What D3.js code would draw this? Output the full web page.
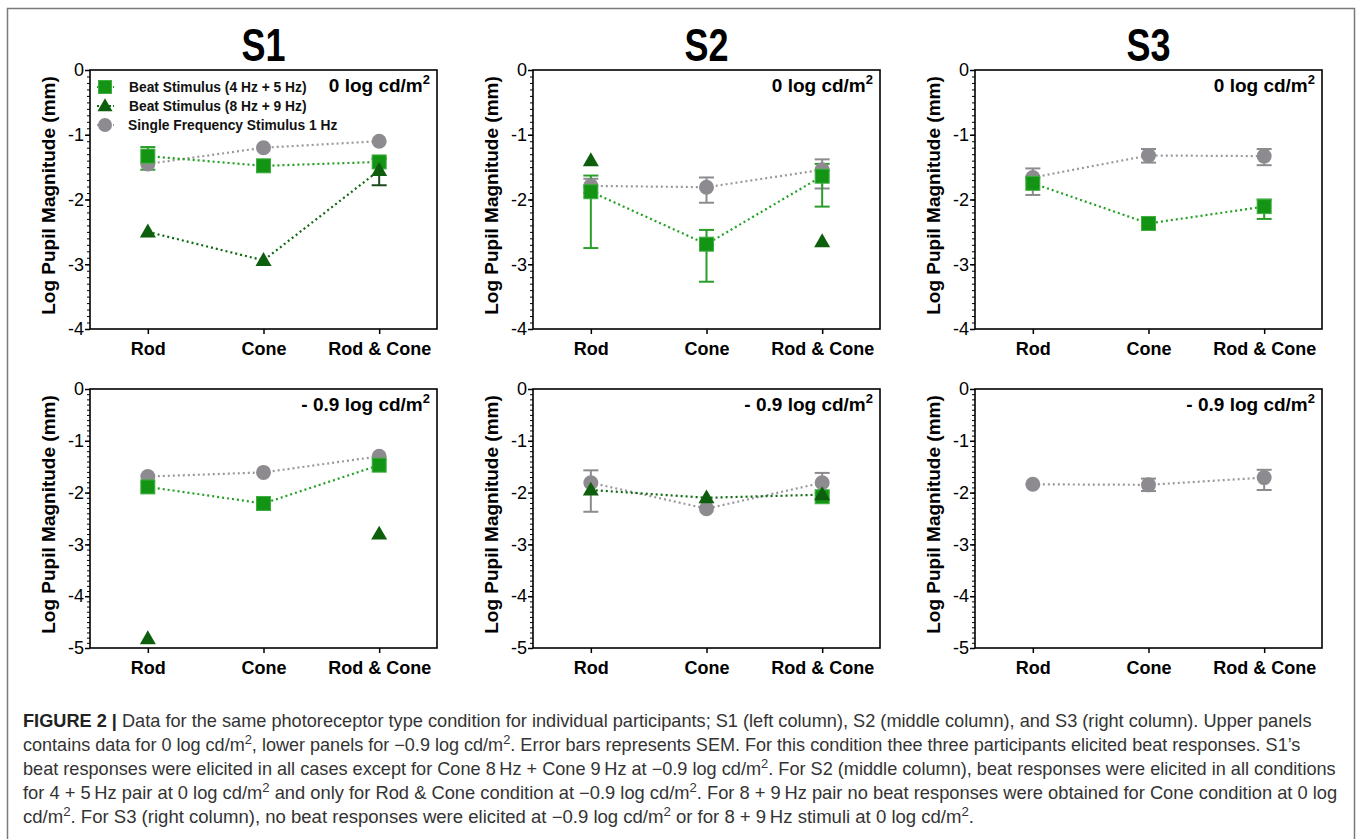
<!DOCTYPE html>
<html>
<head>
<meta charset="utf-8">
<script src="https://cdn.jsdelivr.net/npm/d3@7/dist/d3.min.js"></script>
<style>
  html, body { margin: 0; padding: 0; background: #fff; }
  svg { display: block; font-family: "Liberation Sans", Arial, Helvetica, sans-serif; }
</style>
</head>
<body>
<svg id="chart" width="1358" height="839"></svg>
<script>
// ---------------- DATA ----------------
const categories = ["Rod", "Cone", "Rod & Cone"];
const subjects = ["S1", "S2", "S3"];
const conditionLabels = ["0 log cd/m", "- 0.9 log cd/m"];
const yTicksTop = [0, -1, -2, -3, -4];
const yTicksBottom = [0, -1, -2, -3, -4, -5];
const seriesNames = ["Beat Stimulus (4 Hz + 5 Hz)", "Beat Stimulus (8 Hz + 9 Hz)", "Single Frequency Stimulus 1 Hz"];

// panel order: S1 top, S2 top, S3 top, S1 bottom, S2 bottom, S3 bottom
const beat45 = [
  [-1.33, -1.48, -1.42],
  [-1.88, -2.69, -1.64],
  [-1.75, -2.37, -2.11],
  [-1.89, -2.21, -1.47],
  [null, null, -2.08],
  [null, null, null]
];
const beat45Err = [
  [[-1.19, -1.54], null, null],
  [[-1.63, -2.75], [-2.47, -3.27], [-1.45, -2.11]],
  [null, null, [-2.0, -2.3]],
  [null, null, null],
  [null, null, null],
  [null, null, null]
];
const beat89 = [
  [-2.5, -2.94, -1.55],
  [-1.4, null, -2.65],
  [null, null, null],
  [-4.82, null, -2.8],
  [-1.95, -2.1, -2.04],
  [null, null, null]
];
const beat89Err = [
  [null, null, [-1.37, -1.78]],
  [null, null, null],
  [null, null, null],
  [null, null, null],
  [null, null, null],
  [null, null, null]
];
const single1Hz = [
  [-1.45, -1.2, -1.1],
  [-1.79, -1.81, -1.54],
  [-1.66, -1.32, -1.33],
  [-1.69, -1.61, -1.3],
  [-1.81, -2.31, -1.81],
  [-1.84, -1.85, -1.71]
];
const single1HzErr = [
  [null, null, null],
  [[-1.68, -1.9], [-1.66, -2.05], [-1.38, -1.83]],
  [[-1.52, -1.93], [-1.22, -1.43], [-1.22, -1.47]],
  [null, null, null],
  [[-1.57, -2.37], null, [-1.62, -2.0]],
  [null, [-1.73, -1.97], [-1.56, -1.95]]
];

const captionLines = [
  [["b", "FIGURE 2 | "], ["n", "Data for the same photoreceptor type condition for individual participants; S1 (left column), S2 (middle column), and S3 (right column). Upper panels"]],
  [["n", "contains data for 0 log cd/m"], ["s", "2"], ["n", ", lower panels for \u22120.9 log cd/m"], ["s", "2"], ["n", ". Error bars represents SEM. For this condition thee three participants elicited beat responses. S1\u2019s"]],
  [["n", "beat responses were elicited in all cases except for Cone 8\u2009Hz + Cone 9\u2009Hz at \u22120.9 log cd/m"], ["s", "2"], ["n", ". For S2 (middle column), beat responses were elicited in all conditions"]],
  [["n", "for 4 + 5\u2009Hz pair at 0 log cd/m"], ["s", "2"], ["n", " and only for Rod & Cone condition at \u22120.9 log cd/m"], ["s", "2"], ["n", ". For 8 + 9\u2009Hz pair no beat responses were obtained for Cone condition at 0 log"]],
  [["n", "cd/m"], ["s", "2"], ["n", ". For S3 (right column), no beat responses were elicited at \u22120.9 log cd/m"], ["s", "2"], ["n", " or for 8 + 9\u2009Hz stimuli at 0 log cd/m"], ["s", "2"], ["n", "."]]
];

// ---------------- LAYOUT / STYLE ----------------
const colLeft = [90, 533, 975];
const panelW = 347;
const rowTop = [70, 389];
const panelH = 259;
const captionEnds = [1313, 1302, 1337, 1338, 975];

const C = {
  sq: "#149414", sqStroke: "#3fae3f", sqLine: "#23a023", sqErr: "#2a9d2a",
  tri: "#0d5e0d", triLine: "#0f6a0f", triErr: "#1d4a1d",
  cir: "#8e8b90", cirLine: "#9b989d", cirErr: "#8e8b90"
};

const svg = d3.select("#chart");

// outer frame
svg.append("rect").attr("x", 7.5).attr("y", 8.5).attr("width", 1347).attr("height", 850)
  .attr("fill", "none").attr("stroke", "#7a7a7a").attr("stroke-width", 1.5);

function fitText(textSel, x, y, width) {
  const w = textSel.node().getBBox().width;
  const k = width / w;
  textSel.attr("transform", `translate(${x},${y}) scale(${k},1)`);
}

// Titles
subjects.forEach((s, i) => {
  const cx = colLeft[i] + panelW / 2;
  const t = svg.append("text").attr("x", 0).attr("y", 0)
    .attr("font-weight", "bold").attr("font-size", 46).attr("fill", "#000")
    .text(s);
  const w = t.node().getBBox().width;
  const target = 44;
  t.attr("transform", `translate(${cx - target / 2},61) scale(${target / w},1)`);
});

const markers = {
  square: (g, x, y, s) => g.append("rect").attr("x", x - s / 2).attr("y", y - s / 2).attr("width", s).attr("height", s)
      .attr("fill", C.sq).attr("stroke", C.sqStroke).attr("stroke-width", 1),
  triangle: (g, x, y, s) => {
    const h = s * 0.87;
    g.append("path").attr("d", `M${x},${y - h * 0.6}L${x + s / 2},${y + h * 0.4}L${x - s / 2},${y + h * 0.4}Z`)
      .attr("fill", C.tri);
  },
  circle: (g, x, y, s) => g.append("circle").attr("cx", x).attr("cy", y).attr("r", s / 2).attr("fill", C.cir)
};

function drawPanel(pi) {
  const col = pi % 3, row = Math.floor(pi / 3);
  const x0 = colLeft[col], y0 = rowTop[row];
  const ticks = row === 0 ? yTicksTop : yTicksBottom;
  const yMin = d3.min(ticks);
  const g = svg.append("g").attr("transform", `translate(${x0},${y0})`);

  const x = d3.scalePoint().domain(categories).range([0, panelW]).padding(0.5);
  const y = d3.scaleLinear().domain([0, yMin]).range([0, panelH]);

  // minor ticks
  const minor = d3.range(0, Math.round(-yMin * 10) + 1).map(v => -v / 10);
  g.append("g").call(d3.axisLeft(y).tickValues(minor).tickSize(3).tickFormat(""))
    .call(a => a.select(".domain").remove())
    .selectAll("line").attr("stroke", "#000").attr("stroke-width", 1);
  // major y axis
  const ya = g.append("g").call(d3.axisLeft(y).tickValues(ticks).tickSize(5).tickPadding(1).tickFormat(d3.format("d")));
  ya.select(".domain").remove();
  ya.selectAll("line").attr("stroke", "#000").attr("stroke-width", 1.5);
  ya.selectAll("text").attr("font-size", 18).attr("fill", "#000")
    .attr("font-family", "'Liberation Sans', Arial, sans-serif")
    .text(d => d === 0 ? "0" : "-" + Math.abs(d));

  // x axis
  const xa = g.append("g").attr("transform", `translate(0,${panelH})`)
    .call(d3.axisBottom(x).tickSize(5).tickPadding(8));
  xa.select(".domain").remove();
  xa.selectAll("line").attr("stroke", "#000").attr("stroke-width", 1.5);
  xa.selectAll("text").attr("font-size", 18).attr("font-weight", "bold").attr("fill", "#000")
    .attr("font-family", "'Liberation Sans', Arial, sans-serif");

  // box
  g.append("rect").attr("x", 0).attr("y", 0).attr("width", panelW).attr("height", panelH)
    .attr("fill", "none").attr("stroke", "#000").attr("stroke-width", 1.6);

  // y label
  g.append("text").attr("transform", `translate(-35,${panelH / 2 - 4}) rotate(-90)`)
    .attr("text-anchor", "middle").attr("font-size", 19).attr("font-weight", "bold").attr("fill", "#000")
    .text("Log Pupil Magnitude (mm)");

  // condition label
  const cl = g.append("text").attr("x", panelW - 7).attr("y", 22).attr("text-anchor", "end")
    .attr("font-size", 19).attr("font-weight", "bold").attr("fill", "#000");
  cl.append("tspan").text(conditionLabels[row]);
  cl.append("tspan").attr("font-size", 13).attr("dy", -8).text("2");

  const series = [
    { vals: single1Hz[pi], err: single1HzErr[pi], line: C.cirLine, errC: C.cirErr, m: "circle", s: 15 },
    { vals: beat45[pi], err: beat45Err[pi], line: C.sqLine, errC: C.sqErr, m: "square", s: 14 },
    { vals: beat89[pi], err: beat89Err[pi], line: C.triLine, errC: C.triErr, m: "triangle", s: 16 }
  ];

  const line = d3.line().defined(d => d.v !== null).x(d => x(d.c)).y(d => y(d.v));
  const cap = 7.5;
  series.forEach(sr => {
    const pts = categories.map((c, i) => ({ c, v: sr.vals[i], e: sr.err[i] }));
    g.append("path").datum(pts).attr("d", line).attr("fill", "none")
      .attr("stroke", sr.line).attr("stroke-width", 2.2).attr("stroke-dasharray", "2,3");
    pts.forEach(p => {
      if (p.v === null || !p.e) return;
      const cx = x(p.c);
      const eg = g.append("g").attr("stroke", sr.errC).attr("stroke-width", 2);
      eg.append("line").attr("x1", cx).attr("x2", cx).attr("y1", y(p.e[0])).attr("y2", y(p.e[1]));
      p.e.forEach(v => eg.append("line").attr("x1", cx - cap).attr("x2", cx + cap).attr("y1", y(v)).attr("y2", y(v)));
    });
  });
  series.forEach(sr => {
    categories.forEach((c, i) => {
      if (sr.vals[i] === null) return;
      markers[sr.m](g, x(c), y(sr.vals[i]), sr.s);
    });
  });

  // legend in first panel
  if (pi === 0) {
    const lg = g.append("g").attr("transform", "translate(15,17)");
    const legendItems = [
      { name: seriesNames[0], m: "square", line: C.sqLine, s: 13 },
      { name: seriesNames[1], m: "triangle", line: C.triLine, s: 15 },
      { name: seriesNames[2], m: "circle", line: C.cirLine, s: 14 }
    ];
    legendItems.forEach((it, i) => {
      const yy = i * 19;
      lg.append("line").attr("x1", -8).attr("x2", 9).attr("y1", yy).attr("y2", yy)
        .attr("stroke", it.line).attr("stroke-width", 2).attr("stroke-dasharray", "2,2");
      markers[it.m](lg, 0, yy, it.s);
      lg.append("text").attr("x", 24 - (i === 2 ? 1 : 0)).attr("y", yy + 5)
        .attr("font-size", 13.8).attr("font-weight", "bold").attr("fill", "#111").text(it.name);
    });
  }
}

for (let i = 0; i < 6; i++) drawPanel(i);

// caption
captionLines.forEach((parts, i) => {
  const t = svg.append("text").attr("font-size", 17.5).attr("fill", "#333");
  parts.forEach(([kind, str]) => {
    const ts = t.append("tspan").text(str);
    if (kind === "b") ts.attr("font-weight", "bold").attr("fill", "#222");
    if (kind === "s") { ts.attr("font-size", 12.5).attr("dy", -7); }
  });
  // reset baseline after superscripts
  t.selectAll("tspan").each(function (d, j) {
    const prev = j > 0 ? parts[j - 1][0] : null;
    if (prev === "s") d3.select(this).attr("dy", 7);
  });
  fitText(t, 23, 727 + i * 24, captionEnds[i] - 23);
});
</script>
</body>
</html>
